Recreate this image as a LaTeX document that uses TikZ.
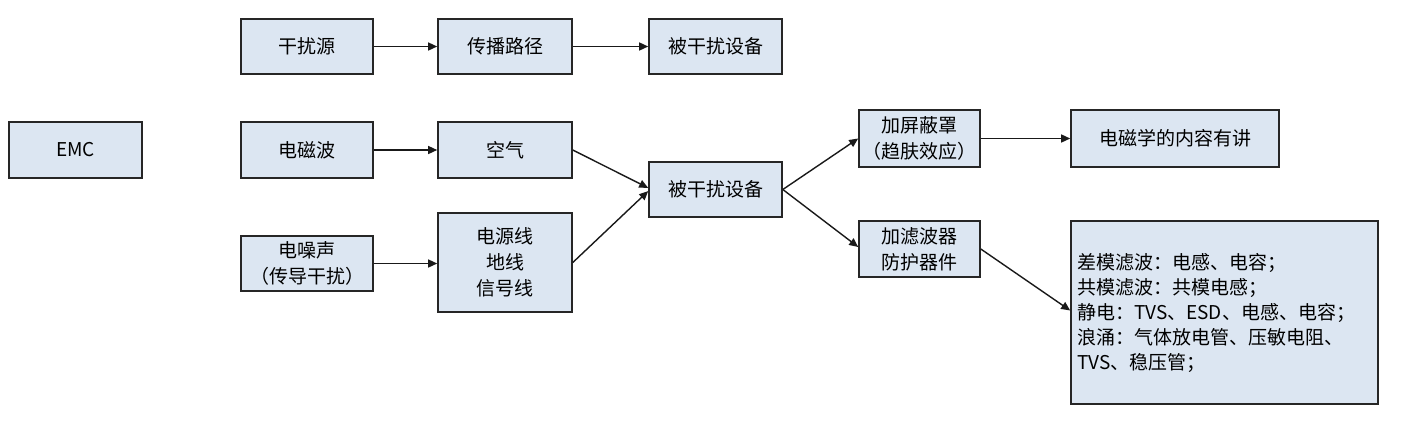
\documentclass[tikz,border=0pt]{standalone}
\usepackage{fontspec}
\setmainfont{Noto Sans CJK SC}
\usetikzlibrary{arrows.meta}
\definecolor{boxfill}{HTML}{DCE6F2}
\begin{document}
\begin{tikzpicture}[x=0.5pt,y=-0.5pt,
  box/.style={draw=black!85, fill=boxfill, line width=0.8pt, minimum width=66pt,
    minimum height=27.5pt, inner sep=1pt, align=center,
    font=\fontsize{9.5}{13}\selectfont},
  arr/.style={-{Triangle[length=4.5pt,width=4pt]}, line width=0.7pt, draw=black!90}]
\useasboundingbox (0,0) rectangle (1414,445);
% left column
\node[box, minimum width=66.5pt, minimum height=28pt] (emc) at (75.5,150) {EMC};
% top row
\node[box] (src) at (307,46.5) {干扰源};
\node[box, minimum width=67pt] (path) at (505,46.5) {传播路径};
\node[box, minimum width=66.5pt] (dev1) at (715.5,46.5) {被干扰设备};
% middle rows
\node[box, minimum height=28pt] (emw) at (307,150) {电磁波};
\node[box, minimum width=67pt, minimum height=28pt] (air) at (505,150) {空气};
\node[box] (noise) at (307,263.5) {电噪声\\（传导干扰）};
\node[box, minimum width=67pt, minimum height=49.5pt] (wires) at (505,262.5) {电源线\\地线\\信号线};
\node[box, minimum width=66.5pt] (dev2) at (715.5,189.5) {被干扰设备};
% right part
\node[box, minimum width=60.5pt, minimum height=28.5pt] (shield) at (919.5,138.5) {加屏蔽罩\\（趋肤效应）};
\node[box, minimum width=60.5pt, minimum height=28pt] (filter) at (919.5,249) {加滤波器\\防护器件};
\node[box, minimum width=104pt, minimum height=28.5pt] (emtext) at (1175,138.5) {电磁学的内容有讲};
\node[box, text width=147.5pt, inner xsep=3pt, minimum height=91.5pt, align=left,
  font=\fontsize{9.5}{12.5}\selectfont] (list) at (1224.5,312.5)
  {差模滤波：电感、电容；\\共模滤波：共模电感；\\静电：TVS、ESD、电感、电容；\\浪涌：气体放电管、压敏电阻、\\TVS、稳压管；};
% connectors
\draw[arr] (src) -- (path);
\draw[arr] (path) -- (dev1);
\draw[arr] (emw) -- (air);
\draw[arr] (noise.east) -- (wires.west |- noise.east);
\draw[arr] (air.east) -- ([yshift=0.8pt]dev2.west);
\draw[arr] (wires.east) -- ([yshift=-0.8pt]dev2.west);
\draw[arr] (dev2.east) -- (shield.west);
\draw[arr] (dev2.east) -- ([yshift=1pt]filter.west);
\draw[arr] (shield) -- (emtext);
\draw[arr] (filter.east) -- ([yshift=1pt]list.west);
\end{tikzpicture}
\end{document}
